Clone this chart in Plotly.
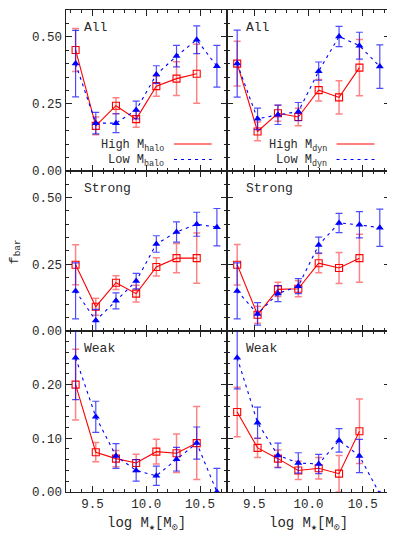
import plotly.graph_objects as go

# ---------------- data ----------------
mass_bins = [9.34375, 9.53125, 9.71875, 9.90625, 10.09375, 10.28125, 10.46875, 10.65625]

all_halo_high = [0.451, 0.168, 0.243, 0.193, 0.316, 0.344, 0.362]
all_halo_high_err = [0.080, 0.033, 0.030, 0.030, 0.038, 0.063, 0.110]
all_halo_low = [0.400, 0.178, 0.178, 0.227, 0.359, 0.428, 0.489, 0.390]
all_halo_low_err = [0.124, 0.040, 0.035, 0.033, 0.033, 0.040, 0.052, 0.078]

all_dyn_high = [0.400, 0.147, 0.215, 0.201, 0.301, 0.274, 0.385]
all_dyn_high_err = [0.083, 0.035, 0.030, 0.033, 0.040, 0.062, 0.105]
all_dyn_low = [0.400, 0.194, 0.209, 0.221, 0.372, 0.501, 0.467, 0.389]
all_dyn_low_err = [0.125, 0.040, 0.036, 0.034, 0.034, 0.038, 0.050, 0.081]

strong_halo_high = [0.248, 0.091, 0.181, 0.140, 0.240, 0.273, 0.273]
strong_halo_high_err = [0.075, 0.032, 0.026, 0.031, 0.034, 0.055, 0.094]
strong_halo_low = [0.150, 0.039, 0.113, 0.187, 0.326, 0.371, 0.400, 0.389]
strong_halo_low_err = [0.105, 0.042, 0.030, 0.029, 0.031, 0.038, 0.045, 0.070]

strong_dyn_high = [0.248, 0.061, 0.156, 0.158, 0.254, 0.236, 0.273]
strong_dyn_high_err = [0.076, 0.032, 0.027, 0.030, 0.036, 0.058, 0.090]
strong_dyn_low = [0.150, 0.064, 0.140, 0.168, 0.322, 0.405, 0.398, 0.387]
strong_dyn_low_err = [0.105, 0.042, 0.030, 0.028, 0.030, 0.036, 0.049, 0.070]

weak_halo_high = [0.200, 0.074, 0.062, 0.054, 0.075, 0.072, 0.091]
weak_halo_high_err = [0.066, 0.018, 0.015, 0.016, 0.023, 0.036, 0.068]
weak_halo_low = [0.250, 0.140, 0.067, 0.040, 0.030, 0.061, 0.091, 0.000]
weak_halo_low_err = [0.078, 0.029, 0.023, 0.020, 0.018, 0.022, 0.030, 0.044]

weak_dyn_high = [0.149, 0.082, 0.062, 0.040, 0.044, 0.034, 0.113]
weak_dyn_high_err = [0.046, 0.018, 0.016, 0.017, 0.020, 0.034, 0.060]
weak_dyn_low = [0.250, 0.129, 0.068, 0.054, 0.052, 0.096, 0.067, -0.004]
weak_dyn_low_err = [0.058, 0.029, 0.023, 0.019, 0.018, 0.022, 0.031, 0.000]

panel_labels = ["All", "Strong", "Weak"]
legend_high = ["High M<sub>halo</sub>", "High M<sub>dyn</sub>"]
legend_low = ["Low M<sub>halo</sub>", "Low M<sub>dyn</sub>"]
x_tick_vals = [9.5, 10.0, 10.5]
x_tick_text = ["9.5", "10.0", "10.5"]
y_tick_vals_top = [0.0, 0.25, 0.50]
y_tick_text_top = ["0.00", "0.25", "0.50"]
y_tick_vals_bot = [0.0, 0.10, 0.20]
y_tick_text_bot = ["0.00", "0.10", "0.20"]
x_title = "log M<sub>\u2605</sub>[M<sub>\u2299</sub>]"
y_title = "f<sub>bar</sub>"

# ---------------- style ----------------
FONT = "Liberation Mono, Courier New, monospace"
RED = "rgb(255,0,0)"
BLUE = "rgb(0,0,255)"
RED_ERR = "rgba(255,30,30,0.55)"
BLUE_ERR = "rgba(0,0,255,0.7)"
TXT = "#2a2a2a"
DASH = "3px,4px"

W, H = 395, 553
OFF = 8  # page body margin offset
xl0, xmid, xr1 = 65.5 - OFF, 227.0 - OFF, 390.0 - OFF
ybounds = [10.0 - OFF, 173.3 - OFF, 335.7 - OFF, 499.0 - OFF]

xdom = [[xl0 / W, xmid / W], [xmid / W, xr1 / W]]
ydom = [[1 - ybounds[r + 1] / H, 1 - ybounds[r] / H] for r in range(3)]

panels = [
    [(all_halo_high, all_halo_high_err, all_halo_low, all_halo_low_err),
     (all_dyn_high, all_dyn_high_err, all_dyn_low, all_dyn_low_err)],
    [(strong_halo_high, strong_halo_high_err, strong_halo_low, strong_halo_low_err),
     (strong_dyn_high, strong_dyn_high_err, strong_dyn_low, strong_dyn_low_err)],
    [(weak_halo_high, weak_halo_high_err, weak_halo_low, weak_halo_low_err),
     (weak_dyn_high, weak_dyn_high_err, weak_dyn_low, weak_dyn_low_err)],
]

fig = go.Figure()
layout = {}
annotations = []
shapes = []

for r in range(3):
    for c in range(2):
        idx = r * 2 + c + 1
        xa = "x" if idx == 1 else f"x{idx}"
        ya = "y" if idx == 1 else f"y{idx}"
        xkey = "xaxis" if idx == 1 else f"xaxis{idx}"
        ykey = "yaxis" if idx == 1 else f"yaxis{idx}"
        hi, hie, lo, loe = panels[r][c]

        fig.add_trace(go.Scatter(
            x=mass_bins[:len(hi)], y=hi, xaxis=xa, yaxis=ya, mode="lines+markers",
            line=dict(color=RED, width=1.1),
            marker=dict(symbol="square-open", size=7, color=RED, line=dict(width=1.1, color=RED)),
            error_y=dict(type="data", array=hie, visible=True, color=RED_ERR, thickness=1.5, width=3.5),
            showlegend=False, cliponaxis=True))
        fig.add_trace(go.Scatter(
            x=mass_bins[:len(lo)], y=lo, xaxis=xa, yaxis=ya, mode="lines+markers",
            line=dict(color=BLUE, width=1.1, dash=DASH),
            marker=dict(symbol="triangle-up", size=7, color=BLUE, line=dict(width=0)),
            error_y=dict(type="data", array=loe, visible=True, color=BLUE_ERR, thickness=1.2, width=3.5),
            showlegend=False, cliponaxis=True))

        layout[xkey] = dict(
            domain=xdom[c], anchor=ya, range=[9.25, 10.75],
            tickmode="array", tickvals=x_tick_vals, ticktext=x_tick_text,
            showticklabels=(r == 2), ticks="inside", ticklen=6, tickwidth=1, tickcolor="#222",
            minor=dict(ticks="inside", ticklen=3, tickmode="linear", tick0=9.3, dtick=0.1,
                       tickcolor="#222", tickwidth=1),
            showline=True, linecolor="#222", linewidth=1.2, mirror="ticks",
            showgrid=False, zeroline=False,
            tickfont=dict(family=FONT, size=12.5, color=TXT),
        )
        if r < 2:
            yr = [0, 0.6]
            tv, tt = y_tick_vals_top, y_tick_text_top
            mdt = 0.05
        else:
            yr = [0, 0.3]
            tv, tt = y_tick_vals_bot, y_tick_text_bot
            mdt = 0.02
        layout[ykey] = dict(
            domain=ydom[r], anchor=xa, range=yr,
            tickmode="array", tickvals=tv, ticktext=tt,
            showticklabels=(c == 0), ticks="inside", ticklen=6, tickwidth=1, tickcolor="#222",
            minor=dict(ticks="inside", ticklen=3, tickmode="linear", tick0=0, dtick=mdt,
                       tickcolor="#222", tickwidth=1),
            showline=True, linecolor="#222", linewidth=1.2, mirror="ticks",
            showgrid=False, zeroline=False,
            tickfont=dict(family=FONT, size=12.5, color=TXT),
        )

        # panel label
        annotations.append(dict(
            text=panel_labels[r], xref=f"{xa} domain", yref=f"{ya} domain",
            x=0.105, y=1 - 17.6 / 163.3, xanchor="left", yanchor="middle",
            showarrow=False, font=dict(family=FONT, size=13, color=TXT)))

        # legend in top row
        if r == 0:
            for k, (txt, col, dash, yy) in enumerate([
                    (legend_high[c], RED, "solid", 0.157),
                    (legend_low[c], BLUE, DASH, 0.061)]):
                annotations.append(dict(
                    text=txt, xref=f"{xa} domain", yref=f"{ya} domain",
                    x=0.625, y=yy, xanchor="right", yanchor="middle",
                    showarrow=False, font=dict(family=FONT, size=12, color=TXT)))
                shapes.append(dict(
                    type="line", xref=f"{xa} domain", yref=f"{ya} domain",
                    x0=0.672, x1=0.905, y0=yy + 0.01, y1=yy + 0.01,
                    line=dict(color=col, width=1.1, dash=dash)))

        # x titles
        if r == 2:
            annotations.append(dict(
                text=x_title, xref=f"{xa} domain", yref="paper",
                x=0.5, y=1 - (531.5 - OFF) / H, xanchor="center", yanchor="middle",
                showarrow=False, font=dict(family=FONT, size=14, color=TXT)))

annotations.append(dict(
    text=y_title, xref="paper", yref="paper", x=(15 - OFF) / W, y=1 - (256 - OFF) / H,
    xanchor="center", yanchor="middle", textangle=-90, showarrow=False,
    font=dict(family=FONT, size=13.5, color=TXT)))

fig.update_layout(
    width=W, height=H, margin=dict(l=0, r=0, t=0, b=0),
    paper_bgcolor="white", plot_bgcolor="white",
    annotations=annotations, shapes=shapes, showlegend=False,
    **layout)

fig.write_html("out.html")
